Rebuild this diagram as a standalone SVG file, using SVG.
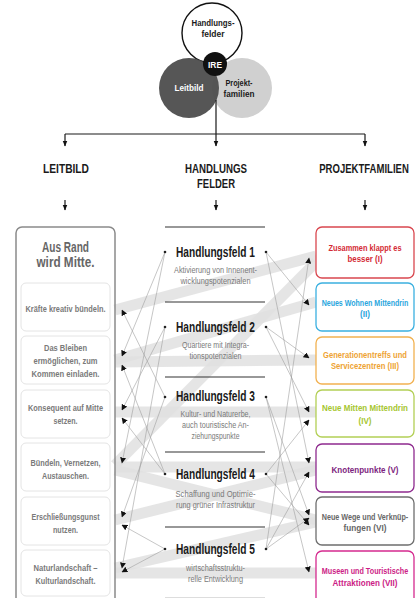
<svg xmlns="http://www.w3.org/2000/svg" width="417" height="598" viewBox="0 0 417 598">
<defs>
<style>
.t{font-family:"Liberation Sans",Arial,sans-serif;text-anchor:middle}
.hd{font-size:13px;font-weight:bold;fill:#1a1a1a}
.hf{font-size:14px;font-weight:bold;fill:#1a1a1a}
.sub{font-size:8.5px;fill:#7a7a7a}
.lb{font-size:8.5px;font-weight:bold;fill:#7a7a7a}
.pf{font-size:8.5px;font-weight:bold}
.vn{font-size:9px;font-weight:bold}
.band{stroke:#e0e0e0;stroke-width:11;fill:none;stroke-opacity:0.85}
.ln{stroke:#a0a0a0;stroke-width:0.6;fill:none;marker-end:url(#ah)}
.tree{stroke:#1a1a1a;stroke-width:1.2;fill:none}
.rule{stroke:#333;stroke-width:1.2}
.inner{fill:#fff;stroke:#e4e4e4;stroke-width:1}
</style>
<marker id="ah" viewBox="0 0 10 10" refX="9" refY="5" markerWidth="6" markerHeight="6" markerUnits="userSpaceOnUse" orient="auto"><path d="M0,0 L10,5 L0,10 z" fill="#111"/></marker>
<marker id="ta" viewBox="0 0 10 10" refX="9" refY="5" markerWidth="6" markerHeight="6" markerUnits="userSpaceOnUse" orient="auto"><path d="M0,1 L10,5 L0,9 z" fill="#111"/></marker>
</defs>
<rect width="417" height="598" fill="#fff"/>

<g id="venn">
<circle cx="212" cy="33" r="30" fill="#fff" stroke="#111" stroke-width="1.4"/>
<circle cx="242" cy="88" r="30" fill="#d0d0d0"/>
<circle cx="189" cy="88" r="30" fill="#4d4d4d" fill-opacity="0.95"/>
<circle cx="215" cy="64" r="12" fill="#111"/>
<text class="t vn" x="213" y="26" fill="#1a1a1a" textLength="43" lengthAdjust="spacingAndGlyphs">Handlungs-</text>
<text class="t vn" x="213" y="37" fill="#1a1a1a" textLength="23" lengthAdjust="spacingAndGlyphs">felder</text>
<text class="t vn" x="215" y="67.5" fill="#fff" textLength="14" lengthAdjust="spacingAndGlyphs">IRE</text>
<text class="t vn" x="189" y="91" fill="#fff" textLength="29" lengthAdjust="spacingAndGlyphs">Leitbild</text>
<text class="t vn" x="239" y="86" fill="#1a1a1a" textLength="27" lengthAdjust="spacingAndGlyphs">Projekt-</text>
<text class="t vn" x="239" y="97" fill="#1a1a1a" textLength="31" lengthAdjust="spacingAndGlyphs">familien</text>
</g>

<g id="tree">
<path class="tree" d="M216,100 V134 M65,134 H365"/>
<path class="tree" d="M65,134 V146" marker-end="url(#ta)"/>
<path class="tree" d="M216,134 V146" marker-end="url(#ta)"/>
<path class="tree" d="M365,134 V146" marker-end="url(#ta)"/>
<path class="tree" d="M65,200 V210" marker-end="url(#ta)"/>
<path class="tree" d="M216,200 V210" marker-end="url(#ta)"/>
<path class="tree" d="M365,200 V210" marker-end="url(#ta)"/>
</g>

<g id="headers">
<text class="t hd" x="66" y="173" textLength="46" lengthAdjust="spacingAndGlyphs">LEITBILD</text>
<text class="t hd" x="216" y="173" textLength="62" lengthAdjust="spacingAndGlyphs">HANDLUNGS</text>
<text class="t hd" x="216" y="188" textLength="38" lengthAdjust="spacingAndGlyphs">FELDER</text>
<text class="t hd" transform="translate(364,173) scale(0.735,1)" x="0" y="0">PROJEKTFAMILIEN</text>
</g>

<g id="bands">
<path class="band" d="M115,310 L316,256"/>
<path class="band" d="M115,360 L316,302"/>
<path class="band" d="M115,362 L316,360"/>
<path class="band" d="M115,412 L316,412"/>
<path class="band" d="M115,465 L316,262"/>
<path class="band" d="M115,467 L316,467"/>
<path class="band" d="M115,470 L316,520"/>
<path class="band" d="M115,520 L316,470"/>
<path class="band" d="M115,568 L316,522"/>
<path class="band" d="M115,573 L316,573"/>
</g>

<g id="connectors">
<path class="ln" d="M165,252 L122,356"/>
<path class="ln" d="M165,252 L122,463"/>
<path class="ln" d="M165,327 L122,410"/>
<path class="ln" d="M165,327 L122,568"/>
<path class="ln" d="M165,397 L122,310"/>
<path class="ln" d="M165,397 L122,517"/>
<path class="ln" d="M165,474 L122,418"/>
<path class="ln" d="M165,474 L122,365"/>
<path class="ln" d="M165,549 L122,525"/>
<path class="ln" d="M165,549 L122,572"/>
<path class="ln" d="M266,252 L309,305"/>
<path class="ln" d="M266,252 L309,463"/>
<path class="ln" d="M266,327 L309,358"/>
<path class="ln" d="M266,327 L309,412"/>
<path class="ln" d="M266,397 L309,515"/>
<path class="ln" d="M266,397 L309,572"/>
<path class="ln" d="M266,474 L309,420"/>
<path class="ln" d="M266,474 L309,525"/>
<path class="ln" d="M266,549 L309,258"/>
<path class="ln" d="M266,549 L309,472"/>
<path class="ln" d="M266,549 L309,518"/>
</g>

<g id="leitbild">
<rect x="16" y="227" width="99" height="380" rx="6" fill="none" stroke="#8a8a8a" stroke-width="1.5"/>
<text class="t" x="65.5" y="252" style="font-size:14px;font-weight:bold;fill:#666" textLength="47" lengthAdjust="spacingAndGlyphs">Aus Rand</text>
<text class="t" x="65.5" y="267" style="font-size:14px;font-weight:bold;fill:#666" textLength="58" lengthAdjust="spacingAndGlyphs">wird Mitte.</text>
</g>
<g id="lb1"><rect class="inner" x="21" y="283" width="89" height="48" rx="5"/><text class="t lb" x="65.5" y="312" textLength="80" lengthAdjust="spacingAndGlyphs">Kräfte kreativ bündeln.</text></g>
<g id="lb2"><rect class="inner" x="21" y="336" width="89" height="48" rx="5"/><text class="t lb" x="65.5" y="351" textLength="43" lengthAdjust="spacingAndGlyphs">Das Bleiben</text><text class="t lb" x="65.5" y="364" textLength="64" lengthAdjust="spacingAndGlyphs">ermöglichen, zum</text><text class="t lb" x="65.5" y="377" textLength="68" lengthAdjust="spacingAndGlyphs">Kommen einladen.</text></g>
<g id="lb3"><rect class="inner" x="21" y="390" width="89" height="48" rx="5"/><text class="t lb" x="65.5" y="411" textLength="75" lengthAdjust="spacingAndGlyphs">Konsequent auf Mitte</text><text class="t lb" x="65.5" y="424" textLength="24" lengthAdjust="spacingAndGlyphs">setzen.</text></g>
<g id="lb4"><rect class="inner" x="21" y="443" width="89" height="48" rx="5"/><text class="t lb" x="65.5" y="466" textLength="70" lengthAdjust="spacingAndGlyphs">Bündeln, Vernetzen,</text><text class="t lb" x="65.5" y="479" textLength="47" lengthAdjust="spacingAndGlyphs">Austauschen.</text></g>
<g id="lb5"><rect class="inner" x="21" y="497" width="89" height="48" rx="5"/><text class="t lb" x="65.5" y="520" textLength="68" lengthAdjust="spacingAndGlyphs">Erschließungsgunst</text><text class="t lb" x="65.5" y="533" textLength="25" lengthAdjust="spacingAndGlyphs">nutzen.</text></g>
<g id="lb6"><rect class="inner" x="21" y="550" width="89" height="46" rx="5"/><text class="t lb" x="65.5" y="571" textLength="64" lengthAdjust="spacingAndGlyphs">Naturlandschaft –</text><text class="t lb" x="65.5" y="584" textLength="60" lengthAdjust="spacingAndGlyphs">Kulturlandschaft.</text></g>

<g id="hf1"><line class="rule" x1="165" y1="227" x2="265" y2="227"/><circle cx="165" cy="252" r="1.3" fill="#222"/><circle cx="266" cy="252" r="1.3" fill="#222"/><text class="t hf" x="215.5" y="257" textLength="79" lengthAdjust="spacingAndGlyphs">Handlungsfeld 1</text><text class="t sub" x="215.5" y="273" textLength="83" lengthAdjust="spacingAndGlyphs">Aktivierung von Innenent-</text><text class="t sub" x="215.5" y="284" textLength="70" lengthAdjust="spacingAndGlyphs">wicklungspotenzialen</text></g>
<g id="hf2"><line class="rule" x1="165" y1="302" x2="265" y2="302"/><circle cx="165" cy="327" r="1.3" fill="#222"/><circle cx="266" cy="327" r="1.3" fill="#222"/><text class="t hf" x="215.5" y="332" textLength="79" lengthAdjust="spacingAndGlyphs">Handlungsfeld 2</text><text class="t sub" x="215.5" y="348" textLength="67" lengthAdjust="spacingAndGlyphs">Quartiere mit Integra-</text><text class="t sub" x="215.5" y="359" textLength="52" lengthAdjust="spacingAndGlyphs">tionspotenzialen</text></g>
<g id="hf3"><line class="rule" x1="165" y1="377" x2="265" y2="377"/><circle cx="165" cy="397" r="1.3" fill="#222"/><circle cx="266" cy="397" r="1.3" fill="#222"/><text class="t hf" x="215.5" y="401" textLength="79" lengthAdjust="spacingAndGlyphs">Handlungsfeld 3</text><text class="t sub" x="215.5" y="417" textLength="70" lengthAdjust="spacingAndGlyphs">Kultur- und Naturerbe,</text><text class="t sub" x="215.5" y="428" textLength="67" lengthAdjust="spacingAndGlyphs">auch touristische An-</text><text class="t sub" x="215.5" y="439" textLength="48" lengthAdjust="spacingAndGlyphs">ziehungspunkte</text></g>
<g id="hf4"><line class="rule" x1="165" y1="452" x2="265" y2="452"/><circle cx="165" cy="474" r="1.3" fill="#222"/><circle cx="266" cy="474" r="1.3" fill="#222"/><text class="t hf" x="215.5" y="479" textLength="79" lengthAdjust="spacingAndGlyphs">Handlungsfeld 4</text><text class="t sub" x="215.5" y="497" textLength="80" lengthAdjust="spacingAndGlyphs">Schaffung und Optimie-</text><text class="t sub" x="215.5" y="508" textLength="79" lengthAdjust="spacingAndGlyphs">rung grüner Infrastruktur</text></g>
<g id="hf5"><line class="rule" x1="165" y1="527" x2="265" y2="527"/><circle cx="165" cy="549" r="1.3" fill="#222"/><circle cx="266" cy="549" r="1.3" fill="#222"/><text class="t hf" x="215.5" y="554" textLength="79" lengthAdjust="spacingAndGlyphs">Handlungsfeld 5</text><text class="t sub" x="215.5" y="571" textLength="59" lengthAdjust="spacingAndGlyphs">wirtschaftsstruktu-</text><text class="t sub" x="215.5" y="582" textLength="55" lengthAdjust="spacingAndGlyphs">relle Entwicklung</text><line x1="165" y1="597.5" x2="265" y2="597.5" stroke="#ddd" stroke-width="1"/></g>

<g id="pf1"><rect x="316" y="227" width="98" height="51" rx="6" fill="#fff" stroke="#d9474f" stroke-width="1.3"/><text class="t pf" x="365" y="251" fill="#d42a35" textLength="73" lengthAdjust="spacingAndGlyphs">Zusammen klappt es</text><text class="t pf" x="365" y="262" fill="#d42a35" textLength="35" lengthAdjust="spacingAndGlyphs">besser (I)</text></g>
<g id="pf2"><rect x="316" y="283" width="98" height="48" rx="6" fill="#fff" stroke="#3bb0e0" stroke-width="1.3"/><text class="t pf" transform="translate(365,306) scale(0.83,1)" x="0" y="0" fill="#2aa6dd">Neues Wohnen Mittendrin</text><text class="t pf" x="365" y="317" fill="#2aa6dd" textLength="10" lengthAdjust="spacingAndGlyphs">(II)</text></g>
<g id="pf3"><rect x="316" y="337" width="98" height="47" rx="6" fill="#fff" stroke="#f2b150" stroke-width="1.3"/><text class="t pf" x="365" y="358" fill="#eea334" textLength="84" lengthAdjust="spacingAndGlyphs">Generationentreffs und</text><text class="t pf" x="365" y="369" fill="#eea334" textLength="68" lengthAdjust="spacingAndGlyphs">Servicezentren (III)</text></g>
<g id="pf4"><rect x="316" y="390" width="98" height="47" rx="6" fill="#fff" stroke="#b3cf55" stroke-width="1.3"/><text class="t pf" x="365" y="411" fill="#a6c62f" textLength="86" lengthAdjust="spacingAndGlyphs">Neue Mitten Mittendrin</text><text class="t pf" x="365" y="424" fill="#a6c62f" textLength="13" lengthAdjust="spacingAndGlyphs">(IV)</text></g>
<g id="pf5"><rect x="316" y="444" width="98" height="48" rx="6" fill="#fff" stroke="#8e2a8e" stroke-width="1.3"/><text class="t pf" x="365" y="473" fill="#7d1f80" textLength="67" lengthAdjust="spacingAndGlyphs">Knotenpunkte (V)</text></g>
<g id="pf6"><rect x="316" y="497" width="98" height="48" rx="6" fill="#fff" stroke="#6e6e6e" stroke-width="1.3"/><text class="t pf" transform="translate(365,520) scale(0.845,1)" x="0" y="0" fill="#666">Neue Wege und Verknüp-</text><text class="t pf" x="365" y="531" fill="#666" textLength="43" lengthAdjust="spacingAndGlyphs">fungen (VI)</text></g>
<g id="pf7"><rect x="316" y="551" width="98" height="55" rx="6" fill="#fff" stroke="#d52a8f" stroke-width="1.3"/><text class="t pf" transform="translate(365,574) scale(0.85,1)" x="0" y="0" fill="#cc1d86">Museen und Touristische</text><text class="t pf" x="365" y="586" fill="#cc1d86" textLength="65" lengthAdjust="spacingAndGlyphs">Attraktionen (VII)</text></g>
</svg>
